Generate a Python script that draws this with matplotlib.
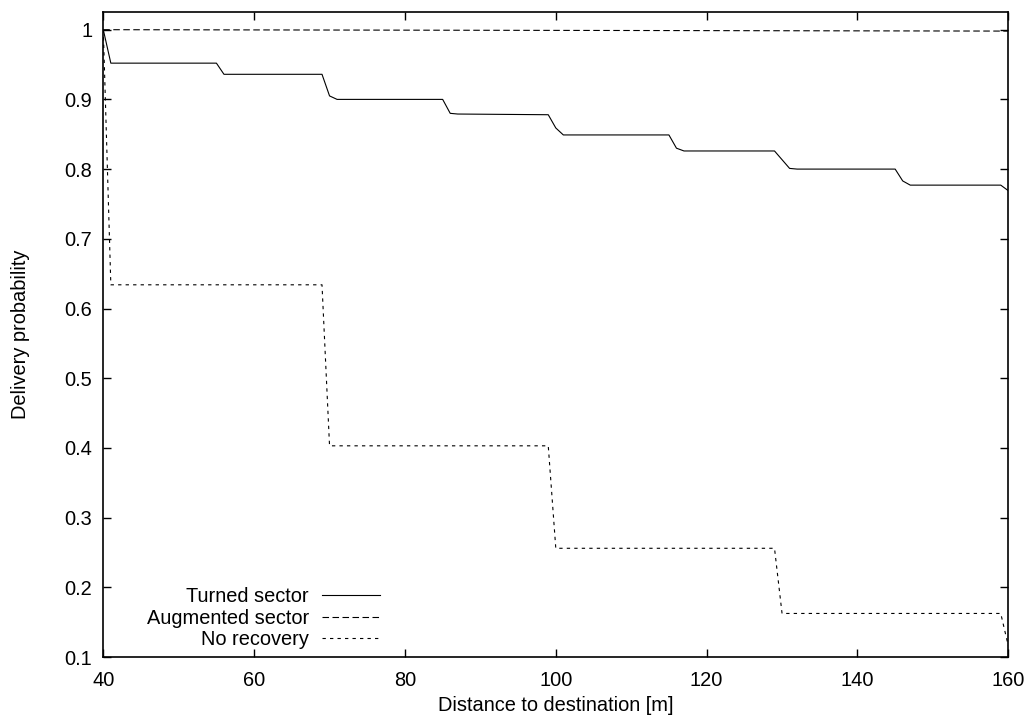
import matplotlib
matplotlib.use("Agg")
import matplotlib.pyplot as plt

plt.rcParams['font.family'] = ['Liberation Sans', 'DejaVu Sans']
plt.rcParams['font.size'] = 14.4
plt.rcParams['lines.scale_dashes'] = False

# distance [m] / delivery probability
turned_x = [40, 41, 55, 56, 69, 70, 71, 85, 86, 87, 99, 100, 101, 115, 116, 117,
            129, 131, 132, 145, 146, 147, 159, 160]
turned_y = [1.0, 0.952, 0.952, 0.936, 0.936, 0.905, 0.900, 0.900, 0.880, 0.879,
            0.878, 0.859, 0.849, 0.849, 0.830, 0.826, 0.826, 0.801, 0.800, 0.800,
            0.783, 0.777, 0.777, 0.769]

augmented_x = [40, 100, 160]
augmented_y = [1.0, 0.999, 0.998]

norecovery_x = [40, 41, 69, 70, 99, 100, 129, 130, 159, 160]
norecovery_y = [1.0, 0.634, 0.634, 0.403, 0.403, 0.256, 0.256, 0.1625, 0.1625, 0.116]

x_ticks = [40, 60, 80, 100, 120, 140, 160]
y_ticks = [0.1, 0.2, 0.3, 0.4, 0.5, 0.6, 0.7, 0.8, 0.9, 1.0]
y_ticklabels = ['0.1', '0.2', '0.3', '0.4', '0.5', '0.6', '0.7', '0.8', '0.9', '1']

fig = plt.figure(figsize=(10.35, 7.22), dpi=100)
ax = fig.add_axes([0.0998, 0.0900, 0.8744, 0.8934])

ax.plot(turned_x, turned_y, color='black', lw=0.8, ls='-', label='Turned sector')
ax.plot(augmented_x, augmented_y, color='black', lw=0.8, ls=(0, (4.7, 2.5)),
        label='Augmented sector')
ax.plot(norecovery_x, norecovery_y, color='black', lw=0.8, ls=(0, (2.4, 3.0)),
        label='No recovery')

ax.set_xlim(40, 160)
ax.set_ylim(0.1, 1.0254)
ax.set_xticks(x_ticks)
ax.set_yticks(y_ticks)
ax.set_yticklabels(y_ticklabels)
ax.tick_params(direction='in', length=5.8, width=1.0, top=True, right=True)
ax.tick_params(axis='y', pad=8)
ax.tick_params(axis='x', pad=10)
for sp in ax.spines.values():
    sp.set_linewidth(1.2)

ax.set_xlabel('Distance to destination [m]')
ax.set_ylabel('Delivery probability')
ax.yaxis.set_label_coords(-0.081, 0.5)
ax.xaxis.set_label_coords(0.5, -0.061)

ax.legend(loc='lower right', bbox_to_anchor=(0.3057, 0.012), frameon=False,
          markerfirst=False, handlelength=2.9, handletextpad=0.65,
          labelspacing=0.12, borderpad=0, borderaxespad=0)

plt.savefig('out.png', dpi=100)
plt.close()
